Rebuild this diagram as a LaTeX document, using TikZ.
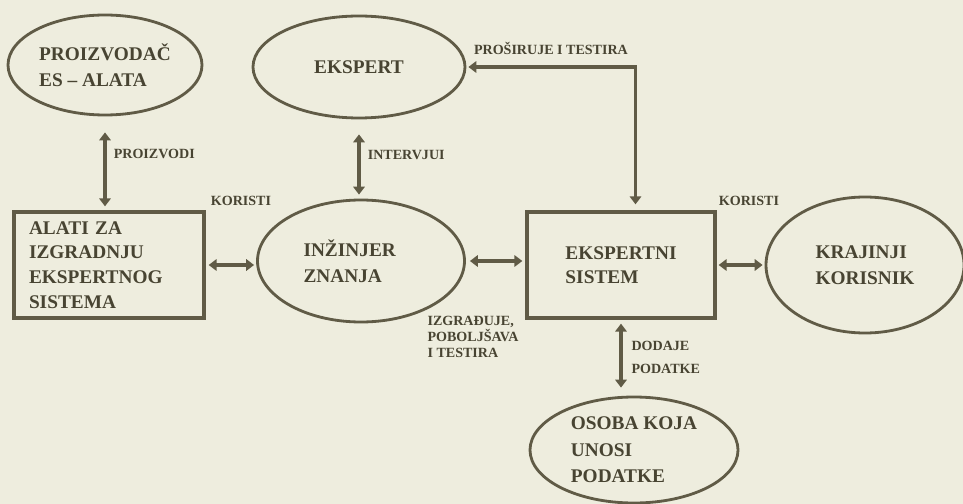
\documentclass[tikz,border=0pt]{standalone}
\usepackage{fontspec}
\setmainfont{Liberation Serif}
\definecolor{esline}{RGB}{96,91,70}
\definecolor{estext}{RGB}{72,68,50}
\definecolor{espaper}{RGB}{238,237,222}
\usetikzlibrary{arrows.meta,positioning,shapes.geometric,calc}

\begin{document}
\begin{tikzpicture}[
    ell/.style={draw=esline,line width=1.6pt,ellipse,inner sep=0pt,align=left,
      text=estext,font=\fontsize{11}{15}\selectfont\bfseries},
    box/.style={draw=esline,line width=1.9pt,rectangle,inner sep=0pt,align=left,
      text=estext,font=\fontsize{11}{14}\selectfont\bfseries},
    lbl/.style={text=estext,inner sep=1pt,font=\fontsize{8}{10}\selectfont\bfseries},
    link/.style={{Triangle[length=4.5pt,width=6.5pt]}-{Triangle[length=4.5pt,width=6.5pt]},
      line width=2pt,esline}]
  % paper
  \fill[espaper] (0,0) rectangle (19.26,-10.08);
  \useasboundingbox (0,0) rectangle (19.26,-10.08);

  % persons and tools
  \node[ell,minimum width=3.88cm,minimum height=2cm] (proizv) at (2.1,-1.3) {PROIZVODAČ\\ES -- ALATA};
  \node[ell,minimum width=4.24cm,minimum height=2.04cm] (ekspert) at (7.18,-1.34) {EKSPERT};
  \node[box,minimum width=3.8cm,minimum height=2.12cm,text width=3.2cm] (alati) at (2.18,-5.3)
    {ALATI ZA\\IZGRADNJU\\EKSPERTNOG\\SISTEMA};
  \node[ell,minimum width=4.14cm,minimum height=2.44cm,text width=2.3cm] (inzinjer) at (7.22,-5.22) {INŽINJER\\ZNANJA};
  \node[box,minimum width=3.76cm,minimum height=2.12cm] (sistem) at (12.42,-5.3) {EKSPERTNI\\SISTEM};
  \node[ell,minimum width=3.96cm,minimum height=2.72cm] (korisnik) at (17.3,-5.3) {KRAJINJI\\KORISNIK};
  \node[ell,minimum width=4.16cm,minimum height=2.12cm] (osoba) at (12.68,-9.0) {OSOBA KOJA\\UNOSI\\PODATKE};

  % connections
  \draw[link,shorten <=0.32cm,shorten >=0.08cm] (proizv) -- (proizv |- alati.north)
    node[lbl,pos=0.4,right=3pt] {PROIZVODI};
  \draw[link,shorten <=0.3cm,shorten >=0.08cm] (ekspert) -- (ekspert |- inzinjer.north)
    node[lbl,pos=0.45,right=3pt] {INTERVJUI};
  \draw[link,shorten <=0.06cm,shorten >=0.04cm] (alati.east) -- (alati.east -| inzinjer.west);
  \draw[link,shorten <=0.08cm,shorten >=0.06cm] (inzinjer.east) -- (inzinjer.east -| sistem.west);
  \draw[link,shorten <=0.04cm,shorten >=0.04cm] (sistem.east) -- (sistem.east -| korisnik.west);
  \draw[link,shorten <=0.08cm,shorten >=0.16cm] (sistem.south) -- (sistem.south |- osoba.north)
    node[lbl,midway,right=4pt,align=left,font=\fontsize{8}{13}\selectfont\bfseries] {DODAJE\\PODATKE};
  \draw[link,shorten <=0.12cm,shorten >=0.04cm] ([xshift=0.29cm]sistem.north) |- (ekspert.east)
    node[lbl,pos=0.75,above=5pt] {PROŠIRUJE I TESTIRA};

  % labels
  \node[lbl] (koristi1) at (4.82,-4.02) {KORISTI};
  \node[lbl] (koristi2) at (14.98,-4.02) {KORISTI};
  \node[lbl,align=left,font=\fontsize{8}{9}\selectfont\bfseries] (izgr) at (9.46,-6.74)
    {IZGRAĐUJE,\\POBOLJŠAVA\\I TESTIRA};
\end{tikzpicture}
\end{document}
